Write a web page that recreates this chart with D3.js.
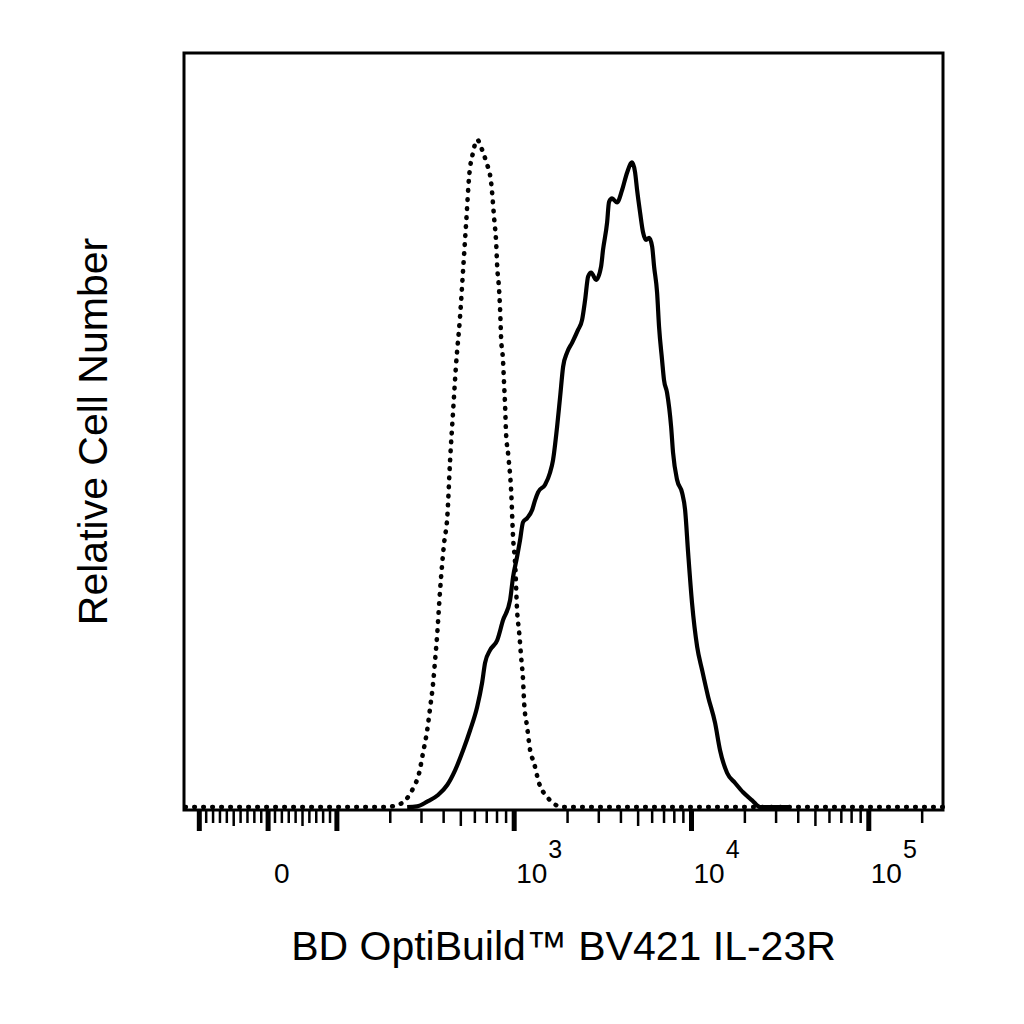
<!DOCTYPE html>
<html>
<head>
<meta charset="utf-8">
<script src="https://cdn.jsdelivr.net/npm/d3@7"></script>
<style>
body { margin: 0; background: #fff; }
text { font-family: "Liberation Sans", Arial, sans-serif; fill: #000; }
</style>
</head>
<body>
<div id="chart"></div>
<script>
// isotype control (dotted) - fluorescence intensity / relative count
var isoIntensity = [-120, 187, 213, 243, 269, 291, 306, 323, 336, 349, 358, 367, 382, 403, 419, 435, 452, 470, 495, 515, 536, 557, 586, 618,
	659, 695, 741, 771, 791, 802, 822, 834, 843, 865, 877, 889, 899, 925, 962, 986, 1012, 1038, 1067, 1094, 1122, 1138, 1183, 1230,
	1294, 1380, 1535, 1656, 1862, 262144];
var isoCount = [0, 0, 0.2, 1.0, 2.8, 5.1, 8.1, 11.5, 15.0, 18.6, 22.0, 25.5, 32.5, 39.7, 43.3, 52.0, 59.2, 66.3, 73.5, 80.5, 87.6, 94.5, 98.1, 100,
	98.5, 96.7, 93.6, 88.2, 84.6, 81.0, 77.5, 74.1, 70.5, 66.9, 63.4, 60.0, 56.2, 52.8, 47.2, 40.3, 36.6, 29.5, 26.1, 22.5, 19.0, 15.6, 12.0, 8.5,
	6.6, 3.6, 1.5, 0.6, 0, 0];

// IL-23R stained (solid)
var stainIntensity = [249, 283, 323, 372, 419, 464, 515, 564, 618, 659, 685, 731, 802, 865, 948, 986, 1038, 1079, 1122, 1183, 1262, 1312,
	1365, 1493, 1592, 1656, 1746, 1816, 1888, 1986, 2123, 2291, 2415, 2512, 2612, 2716, 2897, 3090, 3170, 3342, 3428, 3565, 3802, 4064,
	4335, 4624, 4808, 4932, 5129, 5333, 5546, 5768, 5998, 6152, 6397, 6561, 6823, 6998, 7278, 7674, 7870, 8299, 8851, 9204, 9572, 10069,
	10765, 11482, 12417, 13583, 14488, 15885, 17620, 19543, 21979, 24378, 27733, 35975];
var stainCount = [0, 0.1, 0.8, 1.8, 3.3, 5.5, 8.5, 11.5, 15.0, 18.6, 21.6, 23.5, 25.0, 28.0, 31.0, 34.5, 37.5, 40.0, 42.7, 43.3, 44.5, 46.0,
	47.2, 48.3, 50.1, 52.0, 57.0, 61.5, 66.0, 68.1, 69.6, 71.5, 73.0, 76.0, 79.5, 80.1, 79.0, 81.0, 83.5, 87.6, 90.7, 91.2, 90.6, 92.5,
	95.1, 96.6, 95.1, 92.5, 89.1, 86.1, 85.0, 85.3, 84.0, 81.0, 77.1, 72.0, 67.0, 64.0, 62.1, 57.0, 53.1, 49.0, 47.1, 44.5, 38.1, 30.6,
	24.0, 20.5, 16.5, 12.6, 8.5, 5.1, 3.6, 2.2, 1.0, 0, 0, 0];

var majorTicks = [-100, 0, 100, 1000, 10000, 100000];
var minorTicks = [-90, -80, -70, -60, -50, -40, -30, -20, -10, 10, 20, 30, 40, 50, 60, 70, 80, 90,
	200, 300, 400, 500, 600, 700, 800, 900, 2000, 3000, 4000, 5000, 6000, 7000, 8000, 9000,
	20000, 30000, 40000, 50000, 60000, 70000, 80000, 90000, 200000];
var labelValues = [0, 1000, 10000, 100000];
var labelBase = ["0", "10", "10", "10"];
var labelExp = ["", "3", "4", "5"];

var xTitle = "BD OptiBuild\u2122 BV421 IL-23R";
var yTitle = "Relative Cell Number";

// linear around zero, log above one hundred (biexponential-like display)
var linDecades = 0.388;
function biex(v) {
	var a = Math.abs(v);
	if (a <= 100) return v / 100 * linDecades;
	return (v < 0 ? -1 : 1) * (linDecades + Math.log10(a / 100));
}

var w = 1024, h = 1024;
var box = {left: 184, top: 53, right: 943, bottom: 810};

var svg = d3.select("#chart").append("svg")
	.attr("width", w)
	.attr("height", h);

var xLin = d3.scaleLinear()
	.domain([biex(-122), biex(262144)])
	.range([box.left, box.right]);
function x(v) { return xLin(biex(v)); }

var y = d3.scaleLinear()
	.domain([0, 113])
	.range([box.bottom - 3, box.top]);

function series(xs, ys) {
	return xs.map(function(d, i) { return {v: d, c: ys[i]}; });
}

var line = d3.line()
	.x(function(d) { return x(d.v); })
	.y(function(d) { return y(d.c); })
	.curve(d3.curveMonotoneX);

var plot = svg.append("g").attr("class", "plot");

plot.append("path")
	.datum(series(isoIntensity, isoCount))
	.attr("d", line)
	.attr("fill", "none")
	.attr("stroke", "#000")
	.attr("stroke-width", 4.6)
	.attr("stroke-linecap", "round")
	.attr("stroke-dasharray", "0.6,8.4");

plot.append("path")
	.datum(series(stainIntensity, stainCount))
	.attr("d", line)
	.attr("fill", "none")
	.attr("stroke", "#000")
	.attr("stroke-width", 4.2)
	.attr("stroke-linejoin", "round");

// frame
svg.append("rect")
	.attr("x", box.left)
	.attr("y", box.top)
	.attr("width", box.right - box.left)
	.attr("height", box.bottom - box.top)
	.attr("fill", "none")
	.attr("stroke", "#000")
	.attr("stroke-width", 3);

// ticks
var ticks = svg.append("g").attr("class", "x axis");
ticks.selectAll(".minor")
	.data(minorTicks)
	.enter()
	.append("line")
	.attr("class", "minor")
	.attr("x1", function(d) { return x(d); })
	.attr("x2", function(d) { return x(d); })
	.attr("y1", box.bottom)
	.attr("y2", function(d) {
		var m = Math.abs(d) / Math.pow(10, Math.floor(Math.log10(Math.abs(d))));
		return box.bottom + (m === 5 ? 16 : 13);
	})
	.attr("stroke", "#000")
	.attr("stroke-width", 2.5);

ticks.selectAll(".major")
	.data(majorTicks)
	.enter()
	.append("line")
	.attr("class", "major")
	.attr("x1", function(d) { return x(d); })
	.attr("x2", function(d) { return x(d); })
	.attr("y1", box.bottom)
	.attr("y2", box.bottom + 21)
	.attr("stroke", "#000")
	.attr("stroke-width", 5);

var labels = ticks.selectAll(".tick-label")
	.data(labelValues)
	.enter()
	.append("text")
	.attr("class", "tick-label")
	.attr("x", function(d) { return x(d) + (d === 0 ? 6 : 2); })
	.attr("y", 883)
	.attr("font-size", "28px");
labels.append("tspan")
	.text(function(d, i) { return labelBase[i]; });
labels.append("tspan")
	.attr("dy", -25)
	.attr("dx", 1)
	.attr("font-size", "25px")
	.text(function(d, i) { return labelExp[i]; });

// titles
svg.append("text")
	.attr("x", (box.left + box.right) / 2)
	.attr("y", 960)
	.attr("text-anchor", "middle")
	.attr("font-size", "41px")
	.text(xTitle);

svg.append("text")
	.attr("transform", "translate(107," + ((box.top + box.bottom) / 2) + ") rotate(-90)")
	.attr("text-anchor", "middle")
	.attr("font-size", "41px")
	.text(yTitle);
</script>
</body>
</html>
